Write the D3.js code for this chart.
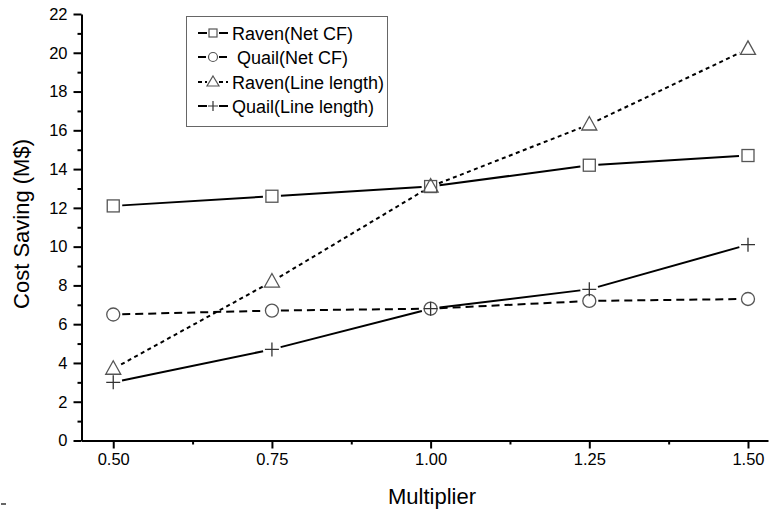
<!DOCTYPE html>
<html>
<head>
<meta charset="utf-8">
<script src="https://cdn.jsdelivr.net/npm/d3@7"></script>
<style>
  body { margin: 0; background: #fff; }
  svg { font-family: "Liberation Sans", Arial, sans-serif; }
</style>
</head>
<body>
<svg id="chart" width="769" height="510"></svg>
<script>
const multipliers = [0.5, 0.75, 1.0, 1.25, 1.5];
const ravenNetCF = [12.1, 12.6, 13.1, 14.2, 14.7];
const quailNetCF = [6.5, 6.7, 6.8, 7.2, 7.3];
const ravenLineLength = [3.7, 8.2, 13.1, 16.3, 20.2];
const quailLineLength = [3.0, 4.7, 6.8, 7.8, 10.1];
const xTicks = [0.5, 0.75, 1.0, 1.25, 1.5];
const yTicks = [0, 2, 4, 6, 8, 10, 12, 14, 16, 18, 20, 22];

const series = [
  { name: 'Raven(Net CF)', values: ravenNetCF, marker: 'square', dash: null },
  { name: 'Quail(Net CF)', values: quailNetCF, marker: 'circle', dash: '8,5' },
  { name: 'Raven(Line length)', values: ravenLineLength, marker: 'triangle', dash: '4,3.5' },
  { name: 'Quail(Line length)', values: quailLineLength, marker: 'plus', dash: null }
];

const svg = d3.select('#chart');
const plotLeft = 81.5, plotRight = 768, plotTop = 14, plotBottom = 440.5;
const fontFam = 'Liberation Sans, Arial, sans-serif';

const x = d3.scaleLinear().domain([0.45, 1.5 + (768 - 748) / 634.5]).range([plotLeft, plotRight]);
const y = d3.scaleLinear().domain([0, 22]).range([plotBottom, plotTop]);

// Minor ticks
const xMinor = [0.625, 0.875, 1.125, 1.375];
const yMinor = d3.range(1, 22, 2);

// X axis
const xAxis = svg.append('g').attr('transform', `translate(0,${plotBottom})`)
  .call(d3.axisBottom(x).tickValues(xTicks).tickFormat(d3.format('.2f')).tickSizeInner(8).tickSizeOuter(0).tickPadding(5));
xAxis.select('.domain').attr('stroke-width', 2);
xAxis.selectAll('.tick line').attr('stroke-width', 2);
xAxis.selectAll('text').attr('font-size', 16.5).attr('fill', '#000').attr('font-family', fontFam);
svg.append('g').attr('transform', `translate(0,${plotBottom})`)
  .call(d3.axisBottom(x).tickValues(xMinor).tickFormat('').tickSizeInner(4).tickSizeOuter(0))
  .call(g => g.select('.domain').remove())
  .selectAll('.tick line').attr('stroke-width', 2);

// Y axis
const yAxis = svg.append('g').attr('transform', `translate(${plotLeft},0)`)
  .call(d3.axisLeft(y).tickValues(yTicks).tickSizeInner(8).tickSizeOuter(0).tickPadding(6));
yAxis.select('.domain').attr('stroke-width', 2);
yAxis.selectAll('.tick line').attr('stroke-width', 2);
yAxis.selectAll('text').attr('font-size', 16.5).attr('fill', '#000').attr('font-family', fontFam);
svg.append('g').attr('transform', `translate(${plotLeft},0)`)
  .call(d3.axisLeft(y).tickValues(yMinor).tickFormat('').tickSizeInner(4).tickSizeOuter(0))
  .call(g => g.select('.domain').remove())
  .selectAll('.tick line').attr('stroke-width', 2);

// Axis titles
svg.append('text').attr('x', 432).attr('y', 504).attr('text-anchor', 'middle')
  .attr('font-size', 22).text('Multiplier');
svg.append('text').attr('transform', 'translate(29,224) rotate(-90)').attr('text-anchor', 'middle')
  .attr('font-size', 22).text('Cost Saving (M$)');

// stray mark bottom-left
svg.append('line').attr('x1', 1).attr('x2', 6).attr('y1', 504).attr('y2', 504).attr('stroke', '#333').attr('stroke-width', 1.5);

const drawMarker = (g, type, cx, cy) => {
  const col = '#555';
  if (type === 'square') {
    g.append('rect').attr('x', cx - 6).attr('y', cy - 6).attr('width', 12).attr('height', 12)
      .attr('fill', 'none').attr('stroke', col).attr('stroke-width', 1.3);
  } else if (type === 'circle') {
    g.append('circle').attr('cx', cx).attr('cy', cy).attr('r', 6.5)
      .attr('fill', 'none').attr('stroke', col).attr('stroke-width', 1.3);
  } else if (type === 'triangle') {
    g.append('path').attr('d', `M${cx},${cy - 8}L${cx + 7.5},${cy + 5.5}L${cx - 7.5},${cy + 5.5}Z`)
      .attr('fill', 'none').attr('stroke', col).attr('stroke-width', 1.3);
  } else if (type === 'plus') {
    g.append('path').attr('d', `M${cx - 7},${cy}H${cx + 7}M${cx},${cy - 7}V${cy + 7}`)
      .attr('fill', 'none').attr('stroke', '#333').attr('stroke-width', 1.3);
  }
};

// Lines, broken around the markers
const gap = 9;
series.forEach(s => {
  const g = svg.append('g');
  const pts = s.values.map((v, i) => [x(multipliers[i]), y(v)]);
  for (let i = 0; i < pts.length - 1; i++) {
    const [x1, y1] = pts[i], [x2, y2] = pts[i + 1];
    const len = Math.hypot(x2 - x1, y2 - y1);
    const ux = (x2 - x1) / len, uy = (y2 - y1) / len;
    g.append('line')
      .attr('x1', x1 + ux * gap).attr('y1', y1 + uy * gap)
      .attr('x2', x2 - ux * gap).attr('y2', y2 - uy * gap)
      .attr('stroke', '#000').attr('stroke-width', 2)
      .attr('stroke-dasharray', s.dash);
  }
  pts.forEach(p => drawMarker(g, s.marker, p[0], p[1]));
});

// Legend
const legend = svg.append('g');
legend.append('rect').attr('x', 186.5).attr('y', 16.5).attr('width', 201).attr('height', 110)
  .attr('fill', '#fff').attr('stroke', '#666').attr('stroke-width', 1);
const rowY = [33, 57, 82, 106];
const legendDash = [null, '8,20', '4,3', null];
const textX = [232, 237, 232, 232];
series.forEach((s, i) => {
  const cy = rowY[i];
  const cx = 213;
  const lg = legend.append('g');
  lg.append('line').attr('x1', 198).attr('x2', cx - 6).attr('y1', cy).attr('y2', cy)
    .attr('stroke', '#000').attr('stroke-width', 2).attr('stroke-dasharray', legendDash[i]);
  lg.append('line').attr('x1', cx + 6).attr('x2', 228).attr('y1', cy).attr('y2', cy)
    .attr('stroke', '#000').attr('stroke-width', 2).attr('stroke-dasharray', legendDash[i]);
  if (s.marker === 'square') {
    lg.append('rect').attr('x', cx - 4).attr('y', cy - 4).attr('width', 8).attr('height', 8)
      .attr('fill', 'none').attr('stroke', '#555').attr('stroke-width', 1.2);
  } else if (s.marker === 'circle') {
    lg.append('circle').attr('cx', cx).attr('cy', cy).attr('r', 4.5)
      .attr('fill', 'none').attr('stroke', '#555').attr('stroke-width', 1.2);
  } else if (s.marker === 'triangle') {
    lg.append('path').attr('d', `M${cx},${cy - 6}L${cx + 6},${cy + 4}L${cx - 6},${cy + 4}Z`)
      .attr('fill', 'none').attr('stroke', '#555').attr('stroke-width', 1.2);
  } else {
    lg.append('path').attr('d', `M${cx - 5},${cy}H${cx + 5}M${cx},${cy - 5}V${cy + 5}`)
      .attr('fill', 'none').attr('stroke', '#333').attr('stroke-width', 1.2);
  }
  lg.append('text').attr('x', textX[i]).attr('y', cy + 6.5).attr('font-size', 18).text(s.name);
});
</script>
</body>
</html>
